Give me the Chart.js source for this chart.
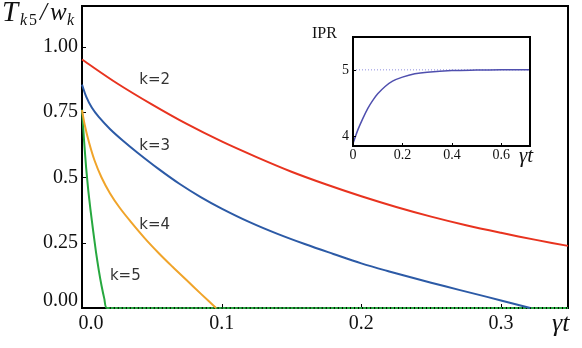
<!DOCTYPE html>
<html>
<head>
<meta charset="utf-8">
<script src="https://cdn.jsdelivr.net/npm/chart.js@4.4.1/dist/chart.umd.min.js"></script>
<style>
  body { margin: 0; background: #fff; }
  #wrap { position: relative; width: 582px; height: 348px; }
  #main { position: absolute; left: 0; top: 0; }
  #inset { position: absolute; left: 300px; top: 15px; }
</style>
</head>
<body>
<div id="wrap">
  <canvas id="main" width="582" height="348"></canvas>
  <canvas id="inset" width="275" height="155"></canvas>
</div>
<script>
// gamma*t samples and T_k5/w_k
const tK2 = [0, 0.025, 0.05, 0.075, 0.1, 0.125, 0.15, 0.175, 0.2, 0.225, 0.25, 0.275, 0.3, 0.325, 0.348];
const vK2 = [0.952, 0.861, 0.78, 0.705, 0.638, 0.578, 0.522, 0.473, 0.428, 0.387, 0.35, 0.317, 0.288, 0.261, 0.238];

const tK3 = [0, 0.003, 0.007, 0.012, 0.02, 0.03, 0.04, 0.055, 0.07, 0.085, 0.1, 0.12, 0.14, 0.16, 0.18, 0.2, 0.22, 0.24, 0.26, 0.28, 0.3, 0.321];
const vK3 = [0.856, 0.81, 0.768, 0.732, 0.686, 0.638, 0.594, 0.532, 0.475, 0.425, 0.381, 0.329, 0.284, 0.244, 0.207, 0.171, 0.14, 0.111, 0.083, 0.056, 0.029, 0];

const tK4 = [0, 0.002, 0.005, 0.009, 0.014, 0.02, 0.027, 0.035, 0.045, 0.055, 0.065, 0.075, 0.085, 0.096];
const vK4 = [0.758, 0.7, 0.635, 0.565, 0.5, 0.44, 0.384, 0.33, 0.267, 0.21, 0.157, 0.106, 0.055, 0];

const tK5 = [0, 0.0015, 0.003, 0.0045, 0.006, 0.008, 0.01, 0.012, 0.014, 0.016, 0.0178, 0.348];
const vK5 = [0.76, 0.64, 0.535, 0.45, 0.38, 0.295, 0.215, 0.145, 0.085, 0.035, 0, 0];

const curveNames = ['k=2', 'k=3', 'k=4', 'k=5'];
// where each curve label sits, in data units
const labelT = [0.051, 0.051, 0.051, 0.030];
const labelV = [0.872, 0.62, 0.317, 0.122];

const xTicks = [0, 0.1, 0.2, 0.3];
const xTickText = ['0.0', '0.1', '0.2', '0.3'];
const yTicks = [0, 0.25, 0.5, 0.75, 1];
const yTickText = ['0.00', '0.25', '0.5', '0.75', '1.00'];

// inset: IPR vs gamma*t
const tIpr = [0, 0.02, 0.04, 0.06, 0.08, 0.1, 0.13, 0.16, 0.2, 0.25, 0.3, 0.4, 0.5, 0.6, 0.716];
const vIpr = [3.89, 4.1, 4.27, 4.42, 4.54, 4.64, 4.75, 4.83, 4.89, 4.94, 4.965, 4.99, 4.997, 5.0, 5.0];
const iprLimit = 5;
const insetXTicks = [0, 0.2, 0.4, 0.6];
const insetXText = ['0', '0.2', '0.4', '0.6'];
const insetYTicks = [4, 5];
const insetYText = ['4', '5'];

function pts(ts, vs) {
  return ts.map((t, i) => ({ x: t, y: vs[i] }));
}

const serif = "'Liberation Serif', 'DejaVu Serif', serif";

const mainDecor = {
  id: 'mainDecor',
  beforeDatasetsDraw(chart) {
    const c = chart.ctx, a = chart.chartArea;
    const xs = chart.scales.x, ys = chart.scales.y;
    c.save();
    c.strokeStyle = '#000';
    c.lineWidth = 2;
    c.strokeRect(a.left, a.top, a.right - a.left, a.bottom - a.top);
    c.lineWidth = 1;
    xTicks.forEach(v => {
      const px = Math.round(xs.getPixelForValue(v)) + 0.5;
      c.beginPath(); c.moveTo(px, a.bottom); c.lineTo(px, a.bottom - 4); c.stroke();
    });
    yTicks.forEach(v => {
      const py = Math.round(ys.getPixelForValue(v)) + 0.5;
      c.beginPath(); c.moveTo(a.left, py); c.lineTo(a.left + 4, py); c.stroke();
    });
    c.restore();
  },
  afterDraw(chart) {
    const c = chart.ctx, a = chart.chartArea;
    const xs = chart.scales.x, ys = chart.scales.y;
    c.save();
    c.fillStyle = '#111';
    c.font = '20px ' + serif;
    c.textBaseline = 'middle';
    c.textAlign = 'center';
    xTicks.forEach((v, i) => {
      const px = xs.getPixelForValue(v) + (v === 0 ? 9 : 0);
      c.fillText(xTickText[i], px, a.bottom + 16);
    });
    c.textAlign = 'right';
    yTicks.forEach((v, i) => {
      const py = ys.getPixelForValue(v) - (v === 0 ? 7 : 0);
      c.fillText(yTickText[i], a.left - 4, py);
    });

    // axis titles
    c.textBaseline = 'alphabetic';
    c.textAlign = 'left';
    c.font = 'italic 26px ' + serif;
    c.fillText('\u03b3t', 552, 331);

    c.font = 'italic 29px ' + serif;
    c.fillText('T', 2, 21);
    c.font = 'italic 16px ' + serif;
    c.fillText('k', 20, 25);
    c.font = '16px ' + serif;
    c.fillText('5', 29, 25);
    c.font = 'italic 25px ' + serif;
    c.fillText('/', 40, 20);
    c.fillText('w', 50, 20);
    c.font = 'italic 16px ' + serif;
    c.fillText('k', 67, 25);

    // curve labels
    c.font = '15px "DejaVu Sans", sans-serif';
    c.fillStyle = '#333';
    c.textBaseline = 'middle';
    curveNames.forEach((n, i) => {
      c.fillText(n, xs.getPixelForValue(labelT[i]) - 14, ys.getPixelForValue(labelV[i]));
    });
    c.restore();
  }
};

const lineBase = { borderWidth: 2, pointRadius: 0, tension: 0.35, clip: 4 };

new Chart(document.getElementById('main'), {
  type: 'line',
  data: {
    datasets: [
      Object.assign({ data: pts(tK2, vK2), borderColor: '#e8331f' }, lineBase),
      Object.assign({ data: pts(tK3, vK3), borderColor: '#2c5aa6' }, lineBase),
      Object.assign({ data: pts(tK4, vK4), borderColor: '#f0a42a' }, lineBase),
      Object.assign({
        data: pts(tK5, vK5), borderColor: '#27a83f',
        segment: { borderDash: s => (s.p0.parsed.y === 0 && s.p1.parsed.y === 0) ? [3, 1] : undefined }
      }, lineBase, { tension: 0.2 })
    ]
  },
  options: {
    responsive: false,
    animation: false,
    devicePixelRatio: 1,
    layout: { padding: { left: 82, right: 14, top: 6, bottom: 40 } },
    plugins: { legend: { display: false }, tooltip: { enabled: false } },
    scales: {
      x: { type: 'linear', min: 0, max: 0.348, display: false },
      y: { type: 'linear', min: 0, max: 1.157, display: false }
    }
  },
  plugins: [mainDecor]
});

const insetDecor = {
  id: 'insetDecor',
  afterDraw(chart) {
    const c = chart.ctx, a = chart.chartArea;
    const xs = chart.scales.x, ys = chart.scales.y;
    c.save();
    c.strokeStyle = '#000';
    c.lineWidth = 2;
    c.strokeRect(a.left, a.top, a.right - a.left, a.bottom - a.top);
    c.lineWidth = 1;
    insetXTicks.forEach(v => {
      const px = Math.round(xs.getPixelForValue(v)) + 0.5;
      c.beginPath(); c.moveTo(px, a.bottom); c.lineTo(px, a.bottom - 3); c.stroke();
    });
    insetYTicks.forEach(v => {
      const py = Math.round(ys.getPixelForValue(v)) + 0.5;
      c.beginPath(); c.moveTo(a.left, py); c.lineTo(a.left + 3, py); c.stroke();
    });
    c.fillStyle = '#111';
    c.font = '14px ' + serif;
    c.textBaseline = 'middle';
    c.textAlign = 'center';
    insetXTicks.forEach((v, i) => {
      c.fillText(insetXText[i], xs.getPixelForValue(v), a.bottom + 9);
    });
    c.textAlign = 'right';
    insetYTicks.forEach((v, i) => {
      c.fillText(insetYText[i], a.left - 4, ys.getPixelForValue(v));
    });
    c.textAlign = 'left';
    c.textBaseline = 'alphabetic';
    c.font = '16px ' + serif;
    c.fillText('IPR', 12, 23);
    c.font = 'italic 21px ' + serif;
    c.fillText('\u03b3t', 219, 147);
    c.restore();
  }
};

new Chart(document.getElementById('inset'), {
  type: 'line',
  data: {
    datasets: [
      { data: pts(tIpr, vIpr), borderColor: '#4f4fae', borderWidth: 1.5, pointRadius: 0, tension: 0.35 },
      { data: [{ x: 0, y: iprLimit }, { x: 0.716, y: iprLimit }], borderColor: '#8f8fe0', borderWidth: 1, borderDash: [1, 2], pointRadius: 0 }
    ]
  },
  options: {
    responsive: false,
    animation: false,
    devicePixelRatio: 1,
    layout: { padding: { left: 53, right: 45, top: 22, bottom: 24 } },
    plugins: { legend: { display: false }, tooltip: { enabled: false } },
    scales: {
      x: { type: 'linear', min: 0, max: 0.716, display: false },
      y: { type: 'linear', min: 3.853, max: 5.495, display: false }
    }
  },
  plugins: [insetDecor]
});
</script>
</body>
</html>
